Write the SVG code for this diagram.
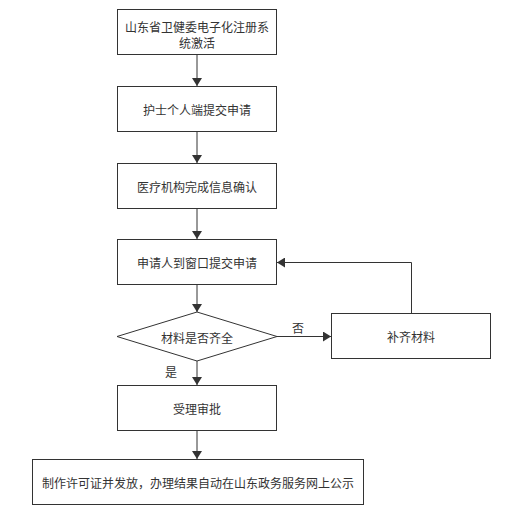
<svg xmlns="http://www.w3.org/2000/svg" width="532" height="514" viewBox="0 0 532 514">
<defs>
<marker id="ah" markerWidth="8" markerHeight="10" refX="8" refY="5" orient="auto" markerUnits="userSpaceOnUse">
<path d="M0,0 L8,5 L0,10 Z" fill="#333"/>
</marker>
<style>
.box{fill:#fff;stroke:#333;stroke-width:1}
.t{font-family:"Noto Sans CJK SC","Noto Sans",sans-serif;font-size:12px;fill:#333;text-anchor:middle;dominant-baseline:central}
.c{fill:none;stroke:#333;stroke-width:1;marker-end:url(#ah)}
</style>
</defs>
<rect width="532" height="514" fill="#fff"/>
<g id="n1"><rect class="box" x="117.5" y="9.5" width="159" height="45"/><text class="t" x="197" y="26">山东省卫健委电子化注册系</text><text class="t" x="197" y="42">统激活</text></g>
<g id="n2"><rect class="box" x="117.5" y="86.5" width="159" height="45"/><text class="t" x="197" y="109">护士个人端提交申请</text></g>
<g id="n3"><rect class="box" x="117.5" y="163.5" width="159" height="45"/><text class="t" x="197" y="186">医疗机构完成信息确认</text></g>
<g id="n4"><rect class="box" x="117.5" y="239.5" width="159" height="45"/><text class="t" x="197" y="262">申请人到窗口提交申请</text></g>
<g id="n5"><polygon class="box" points="197,312 277,336.5 197,361 117,336.5"/><text class="t" x="197" y="337">材料是否齐全</text></g>
<g id="n6"><rect class="box" x="331.5" y="313.5" width="159" height="45"/><text class="t" x="411" y="336">补齐材料</text></g>
<g id="n7"><rect class="box" x="117.5" y="385.5" width="159" height="45"/><text class="t" x="197" y="408">受理审批</text></g>
<g id="n8"><rect class="box" x="32.5" y="459.5" width="331" height="45"/><text class="t" x="198" y="482">制作许可证并发放，办理结果自动在山东政务服务网上公示</text></g>
<g id="connectors">
<line class="c" x1="197" y1="55" x2="197" y2="86"/>
<line class="c" x1="197" y1="132" x2="197" y2="163"/>
<line class="c" x1="197" y1="209" x2="197" y2="239"/>
<line class="c" x1="197" y1="285" x2="197" y2="312"/>
<line class="c" x1="277" y1="336.5" x2="331" y2="336.5"/>
<polyline class="c" points="411.5,313 411.5,262.5 277,262.5"/>
<line class="c" x1="197" y1="361" x2="197" y2="385"/>
<line class="c" x1="197" y1="431" x2="197" y2="459"/>
<text class="t" x="298" y="327">否</text>
<text class="t" x="171" y="371">是</text>
</g>
</svg>
